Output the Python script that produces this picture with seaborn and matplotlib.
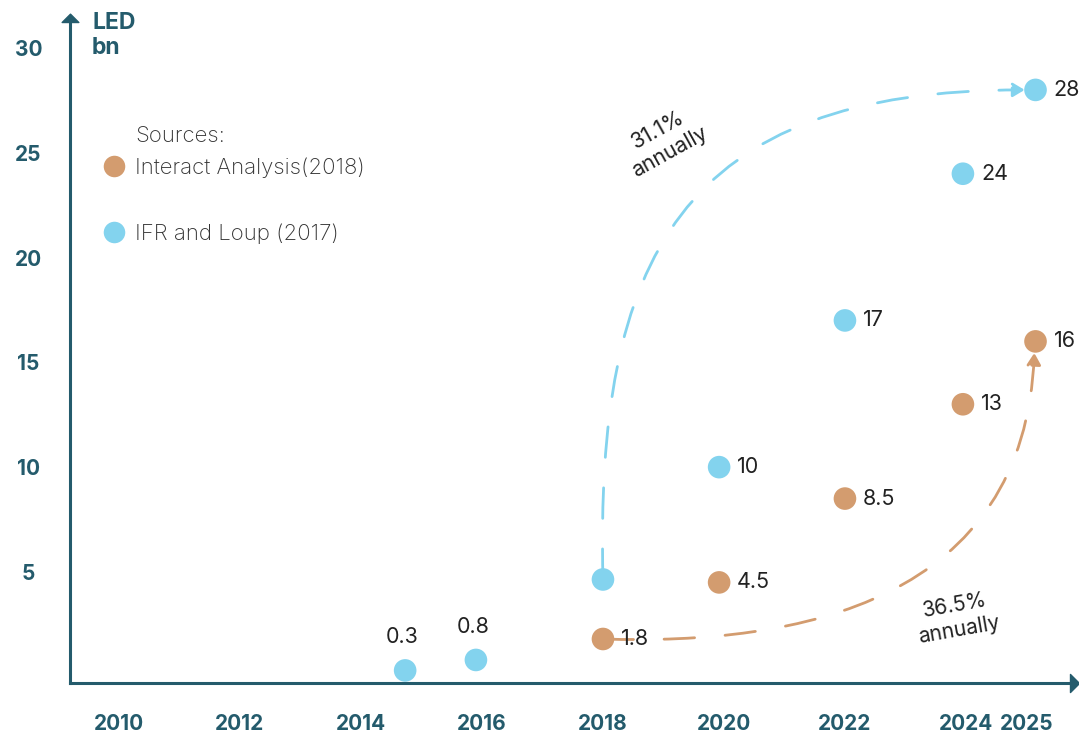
import numpy as np
import pandas as pd
import matplotlib
matplotlib.use("Agg")
import matplotlib.pyplot as plt
from matplotlib.path import Path
from matplotlib.patches import FancyArrowPatch
import seaborn as sns

# ---- data -------------------------------------------------------------
ifr_years = [2014.73, 2015.9, 2018.0, 2019.92, 2022.0, 2023.95, 2025.15]
ifr_values = [0.3, 0.8, 4.64, 10, 17, 24, 28]
ifr_labeled = [True, True, False, True, True, True, True]

ia_years = [2018.0, 2019.92, 2022.0, 2023.95, 2025.15]
ia_values = [1.8, 4.5, 8.5, 13, 16]

x_ticks = [2010, 2012, 2014, 2016, 2018, 2020, 2022, 2024, 2025]
y_ticks = [5, 10, 15, 20, 25, 30]

src_ia = "Interact Analysis(2018)"
src_ifr = "IFR and Loup (2017)"

# ---- style ------------------------------------------------------------
sns.set_style("white")
FONT = ["Inter", "DejaVu Sans"]
plt.rcParams["font.family"] = FONT

TEAL = "#245b6c"
BLUE = "#83d3ee"
ORANGE = "#d39c6f"
INK = "#222222"

W, H = 1079, 733
fig = plt.figure(figsize=(W / 100, H / 100), dpi=100)
ax = fig.add_axes([70 / W, (H - 683) / H, 1000 / W, (683 - 22) / H])

df = pd.DataFrame({
    "year": ia_years + ifr_years,
    "value": ia_values + ifr_values,
    "source": [src_ia] * len(ia_years) + [src_ifr] * len(ifr_years),
})

sns.scatterplot(data=df, x="year", y="value", hue="source",
                hue_order=[src_ia, src_ifr], palette=[ORANGE, BLUE],
                s=265, edgecolor="none", linewidth=0, ax=ax, zorder=4,
                clip_on=False)

ax.set_xlim(2009.19, 2025.72)
ax.set_ylim(-0.3, 31.24)

# ---- growth curves ----------------------------------------------------
def growth_arrow(p0, p1, p2, p3, color):
    path = Path([p0, p1, p2, p3],
                [Path.MOVETO, Path.CURVE4, Path.CURVE4, Path.CURVE4])
    arr = FancyArrowPatch(path=path, arrowstyle="-|>,head_length=0.5,head_width=0.3",
                          mutation_scale=14, color=color, lw=2.0,
                          linestyle=(0, (11, 11)), zorder=3)
    ax.add_patch(arr)

growth_arrow((ifr_years[2], ifr_values[2]), (2017.87, 19.9), (2019.27, 28.0),
             (ifr_years[-1] - 0.18, ifr_values[-1]), BLUE)
growth_arrow((ia_years[0], ia_values[0]), (2021.26, 1.5), (2024.97, 3.6),
             (ia_years[-1] - 0.02, ia_values[-1] - 0.55), ORANGE)


def px_to_axes(px, py):
    return ((px - 70) / 1000, (683 - py) / (683 - 22))

ax.text(*px_to_axes(664, 141), "31.1%\nannually", transform=ax.transAxes,
        rotation=29, rotation_mode="anchor", ha="center", va="center",
        multialignment="center", fontsize=15.3, color=INK, linespacing=1.3)
ax.text(*px_to_axes(957, 618), "36.5%\nannually", transform=ax.transAxes,
        rotation=10, rotation_mode="anchor", ha="center", va="center",
        multialignment="center", fontsize=15, color=INK, linespacing=1.3)

# ---- value labels -----------------------------------------------------
def fmt(v):
    return f"{v:g}"

for x, y, lab in zip(ifr_years, ifr_values, ifr_labeled):
    if not lab:
        continue
    if y < 1:
        ax.annotate(fmt(y), (x, y), xytext=(-2, 24), textcoords="offset points",
                    ha="center", va="center", fontsize=15.5, color=INK)
    else:
        ax.annotate(fmt(y), (x, y), xytext=(13, 0), textcoords="offset points",
                    ha="left", va="center", fontsize=15.5, color=INK)
for x, y in zip(ia_years, ia_values):
    ax.annotate(fmt(y), (x, y), xytext=(13, 0), textcoords="offset points",
                ha="left", va="center", fontsize=15.5, color=INK)

# ---- axes -------------------------------------------------------------
sns.despine(ax=ax)
for side in ("left", "bottom"):
    ax.spines[side].set_color(TEAL)
    ax.spines[side].set_linewidth(2.2)

ax.set_xticks(x_ticks)
ax.set_xticklabels([str(t) for t in x_ticks])
ax.set_yticks(y_ticks)
ax.set_yticklabels([str(t) for t in y_ticks])
ax.tick_params(axis="both", direction="out", length=8, width=2.2,
               color=TEAL, labelcolor=TEAL, labelsize=15)
ax.tick_params(axis="x", pad=14)
ax.tick_params(axis="y", pad=22)
for lbl in ax.get_xticklabels() + ax.get_yticklabels():
    lbl.set_fontweight("bold")
for lbl in ax.get_yticklabels():
    lbl.set_ha("center")
ax.set_xlabel("")
ax.set_ylabel("")

# arrow heads at the ends of both axes
up_head = Path([(-1, 0), (1, 0), (0, 1), (-1, 0)],
               [Path.MOVETO, Path.LINETO, Path.LINETO, Path.CLOSEPOLY])
right_head = Path([(0, -1), (0, 1), (1, 0), (0, -1)],
                  [Path.MOVETO, Path.LINETO, Path.LINETO, Path.CLOSEPOLY])
ax.plot([0], [1], marker=up_head, ms=12, color=TEAL, transform=ax.transAxes,
        clip_on=False, zorder=5)
ax.plot([1], [0], marker=right_head, ms=13, color=TEAL, transform=ax.transAxes,
        clip_on=False, zorder=5)

fig.text(92 / W, 1 - 12 / H, "LED\nbn", ha="left", va="top", fontsize=16.5,
         fontweight="bold", color=TEAL, linespacing=1.15)

# ---- legend -----------------------------------------------------------
leg = ax.get_legend()
handles = leg.legend_handles
labels = [t.get_text() for t in leg.get_texts()]
leg.remove()
for h in handles:
    h.set_markersize(15.5)
leg = ax.legend(handles, labels, loc="upper left",
                bbox_to_anchor=(103 / W, 1 - 157 / H), bbox_transform=fig.transFigure,
                frameon=False, fontsize=16, labelspacing=2.05, handlelength=1.0,
                handletextpad=0.42, borderpad=0, borderaxespad=0)
for t in leg.get_texts():
    t.set_color("#333333")
    t.set_fontweight("light")
fig.text(135 / W, 1 - 136 / H, "Sources:", ha="left", va="center",
         fontsize=16, color="#333333", fontweight="light")

fig.savefig("out.png", dpi=100)
